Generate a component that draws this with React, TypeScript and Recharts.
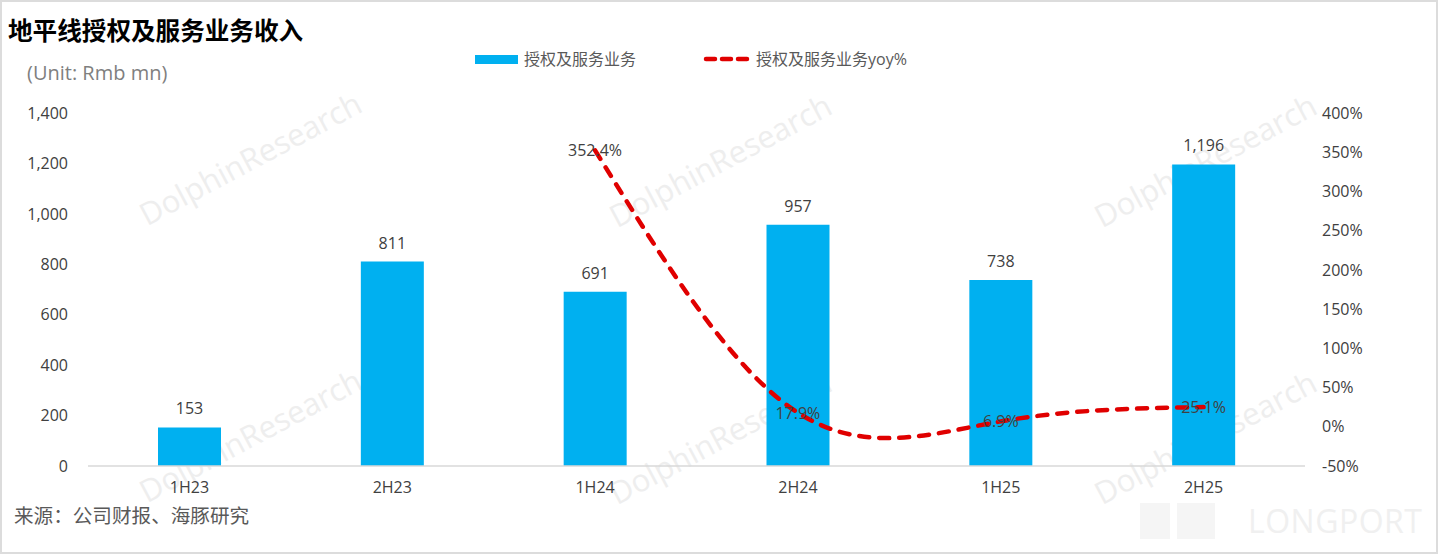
import React from "react";
import {
  ComposedChart,
  Bar,
  Line,
  XAxis,
  YAxis,
  LabelList,
} from "recharts";

const periods = ["1H23", "2H23", "1H24", "2H24", "1H25", "2H25"];
const revenue = [153, 811, 691, 957, 738, 1196];
const yoy: (number | null)[] = [null, null, 352.4, 17.9, 6.9, 25.1];
const leftTicks = [0, 200, 400, 600, 800, 1000, 1200, 1400];
const rightTicks = [-50, 0, 50, 100, 150, 200, 250, 300, 350, 400];

const barName = "授权及服务业务";
const lineName = "授权及服务业务yoy%";
const title = "地平线授权及服务业务收入";
const unitText = "(Unit: Rmb mn)";
const sourceText = "来源：公司财报、海豚研究";

const data = periods.map((p, i) => ({ period: p, revenue: revenue[i], yoy: yoy[i] }));

const FONT = "'Open Sans', 'Noto Sans CJK SC', sans-serif";
const BLUE = "#00B0F0";
const RED = "#E00000";
const TXT = "#404040";

const watermarks = [
  [250, 158],
  [720, 160],
  [1205, 160],
  [250, 435],
  [720, 437],
  [1205, 437],
];

const LineLabel = (props: any) => {
  const { x, y, value } = props;
  if (value === null || value === undefined || x == null || y == null) return null;
  return (
    <text
      x={x}
      y={y}
      textAnchor="middle"
      dominantBaseline="central"
      fill={TXT}
      fontSize={16}
      fontFamily={FONT}
    >
      {`${Number(value).toFixed(1)}%`}
    </text>
  );
};

export default function App() {
  return (
    <div
      style={{
        position: "relative",
        width: 1438,
        height: 554,
        background: "#fff",
        fontFamily: FONT,
        overflow: "hidden",
      }}
    >
      <style>{"body{margin:0;}"}</style>
      {/* watermarks */}
      {watermarks.map(([cx, cy], i) => (
        <div
          key={i}
          style={{
            position: "absolute",
            left: cx - 150,
            top: cy - 20,
            width: 300,
            height: 40,
            lineHeight: "40px",
            textAlign: "center",
            fontSize: 31,
            color: "#eeeeee",
            transform: "rotate(-28deg)",
            fontFamily: FONT,
            whiteSpace: "nowrap",
          }}
        >
          DolphinResearch
        </div>
      ))}
      <div
        style={{
          position: "absolute",
          left: 1140,
          top: 503,
          width: 30,
          height: 36,
          background: "#f5f5f5",
        }}
      />
      <div
        style={{
          position: "absolute",
          left: 1177,
          top: 503,
          width: 38,
          height: 36,
          background: "#f5f5f5",
        }}
      />
      <div
        style={{
          position: "absolute",
          left: 1248,
          top: 503,
          fontSize: 32,
          lineHeight: "36px",
          color: "#f0f0f0",
          letterSpacing: 0.5,
          fontFamily: FONT,
        }}
      >
        LONGPORT
      </div>

      <div style={{ position: "absolute", left: 0, top: 0 }}>
        <ComposedChart
          width={1438}
          height={554}
          data={data}
          margin={{ top: 113, right: 73, bottom: 58, left: 28 }}
        >
          <XAxis
            dataKey="period"
            axisLine={{ stroke: "#d9d9d9", strokeWidth: 1.5 }}
            tickLine={false}
            tickSize={0}
            tickMargin={16}
            height={30}
            tick={{ fill: TXT, fontSize: 16, fontFamily: FONT }}
          />
          <YAxis
            yAxisId="left"
            domain={[0, 1400]}
            ticks={leftTicks}
            width={60}
            axisLine={false}
            tickLine={false}
            tickSize={0}
            tickMargin={20}
            interval={0}
            tickFormatter={(v: number) => v.toLocaleString("en-US")}
            tick={{ fill: TXT, fontSize: 16, fontFamily: FONT }}
          />
          <YAxis
            yAxisId="right"
            orientation="right"
            domain={[-50, 400]}
            ticks={rightTicks}
            width={60}
            axisLine={false}
            tickLine={false}
            tickSize={0}
            tickMargin={17}
            interval={0}
            tickFormatter={(v: number) => `${v}%`}
            tick={{ fill: TXT, fontSize: 16, fontFamily: FONT }}
          />
          <Bar
            yAxisId="left"
            dataKey="revenue"
            name={barName}
            fill={BLUE}
            barSize={63}
            isAnimationActive={false}
          >
            <LabelList
              dataKey="revenue"
              position="top"
              offset={13}
              fill={TXT}
              fontSize={16}
              fontFamily={FONT}
              formatter={(v: any) => Number(v).toLocaleString("en-US")}
            />
          </Bar>
          <Line
            yAxisId="right"
            dataKey="yoy"
            name={lineName}
            type="natural"
            stroke={RED}
            strokeWidth={4.5}
            strokeDasharray="10 10"
            strokeLinecap="round"
            dot={false}
            activeDot={false}
            isAnimationActive={false}
          >
            <LabelList dataKey="yoy" content={LineLabel} />
          </Line>
        </ComposedChart>
      </div>

      {/* title */}
      <div
        style={{
          position: "absolute",
          left: 8,
          top: 16,
          fontSize: 24.6,
          lineHeight: "26px",
          fontWeight: 700,
          color: "#000",
          fontFamily: "'Noto Sans CJK SC', sans-serif",
          whiteSpace: "nowrap",
        }}
      >
        {title}
      </div>
      {/* unit */}
      <div
        style={{
          position: "absolute",
          left: 27,
          top: 62,
          fontSize: 20,
          lineHeight: "22px",
          color: "#7f7f7f",
          whiteSpace: "nowrap",
        }}
      >
        {unitText}
      </div>
      {/* legend */}
      <div
        style={{
          position: "absolute",
          left: 475,
          top: 48,
          height: 22,
          display: "flex",
          alignItems: "center",
          whiteSpace: "nowrap",
        }}
      >
        <div style={{ width: 43, height: 9, background: BLUE, marginRight: 6 }} />
        <span style={{ fontSize: 16, color: "#595959", lineHeight: "22px" }}>{barName}</span>
        <svg width={48} height={10} style={{ marginLeft: 67, marginRight: 5 }}>
          <line
            x1={3}
            y1={5}
            x2={45}
            y2={5}
            stroke={RED}
            strokeWidth={4.5}
            strokeDasharray="9 7"
            strokeLinecap="round"
          />
        </svg>
        <span style={{ fontSize: 16, color: "#595959", lineHeight: "22px" }}>{lineName}</span>
      </div>
      {/* source */}
      <div
        style={{
          position: "absolute",
          left: 14,
          top: 505,
          fontSize: 19.6,
          lineHeight: "22px",
          color: "#595959",
          whiteSpace: "nowrap",
        }}
      >
        {sourceText}
      </div>
      {/* frame */}
      <div
        style={{
          position: "absolute",
          left: 0,
          top: 0,
          width: 1438,
          height: 554,
          boxSizing: "border-box",
          border: "2px solid #dcdcdc",
          pointerEvents: "none",
        }}
      />
    </div>
  );
}
